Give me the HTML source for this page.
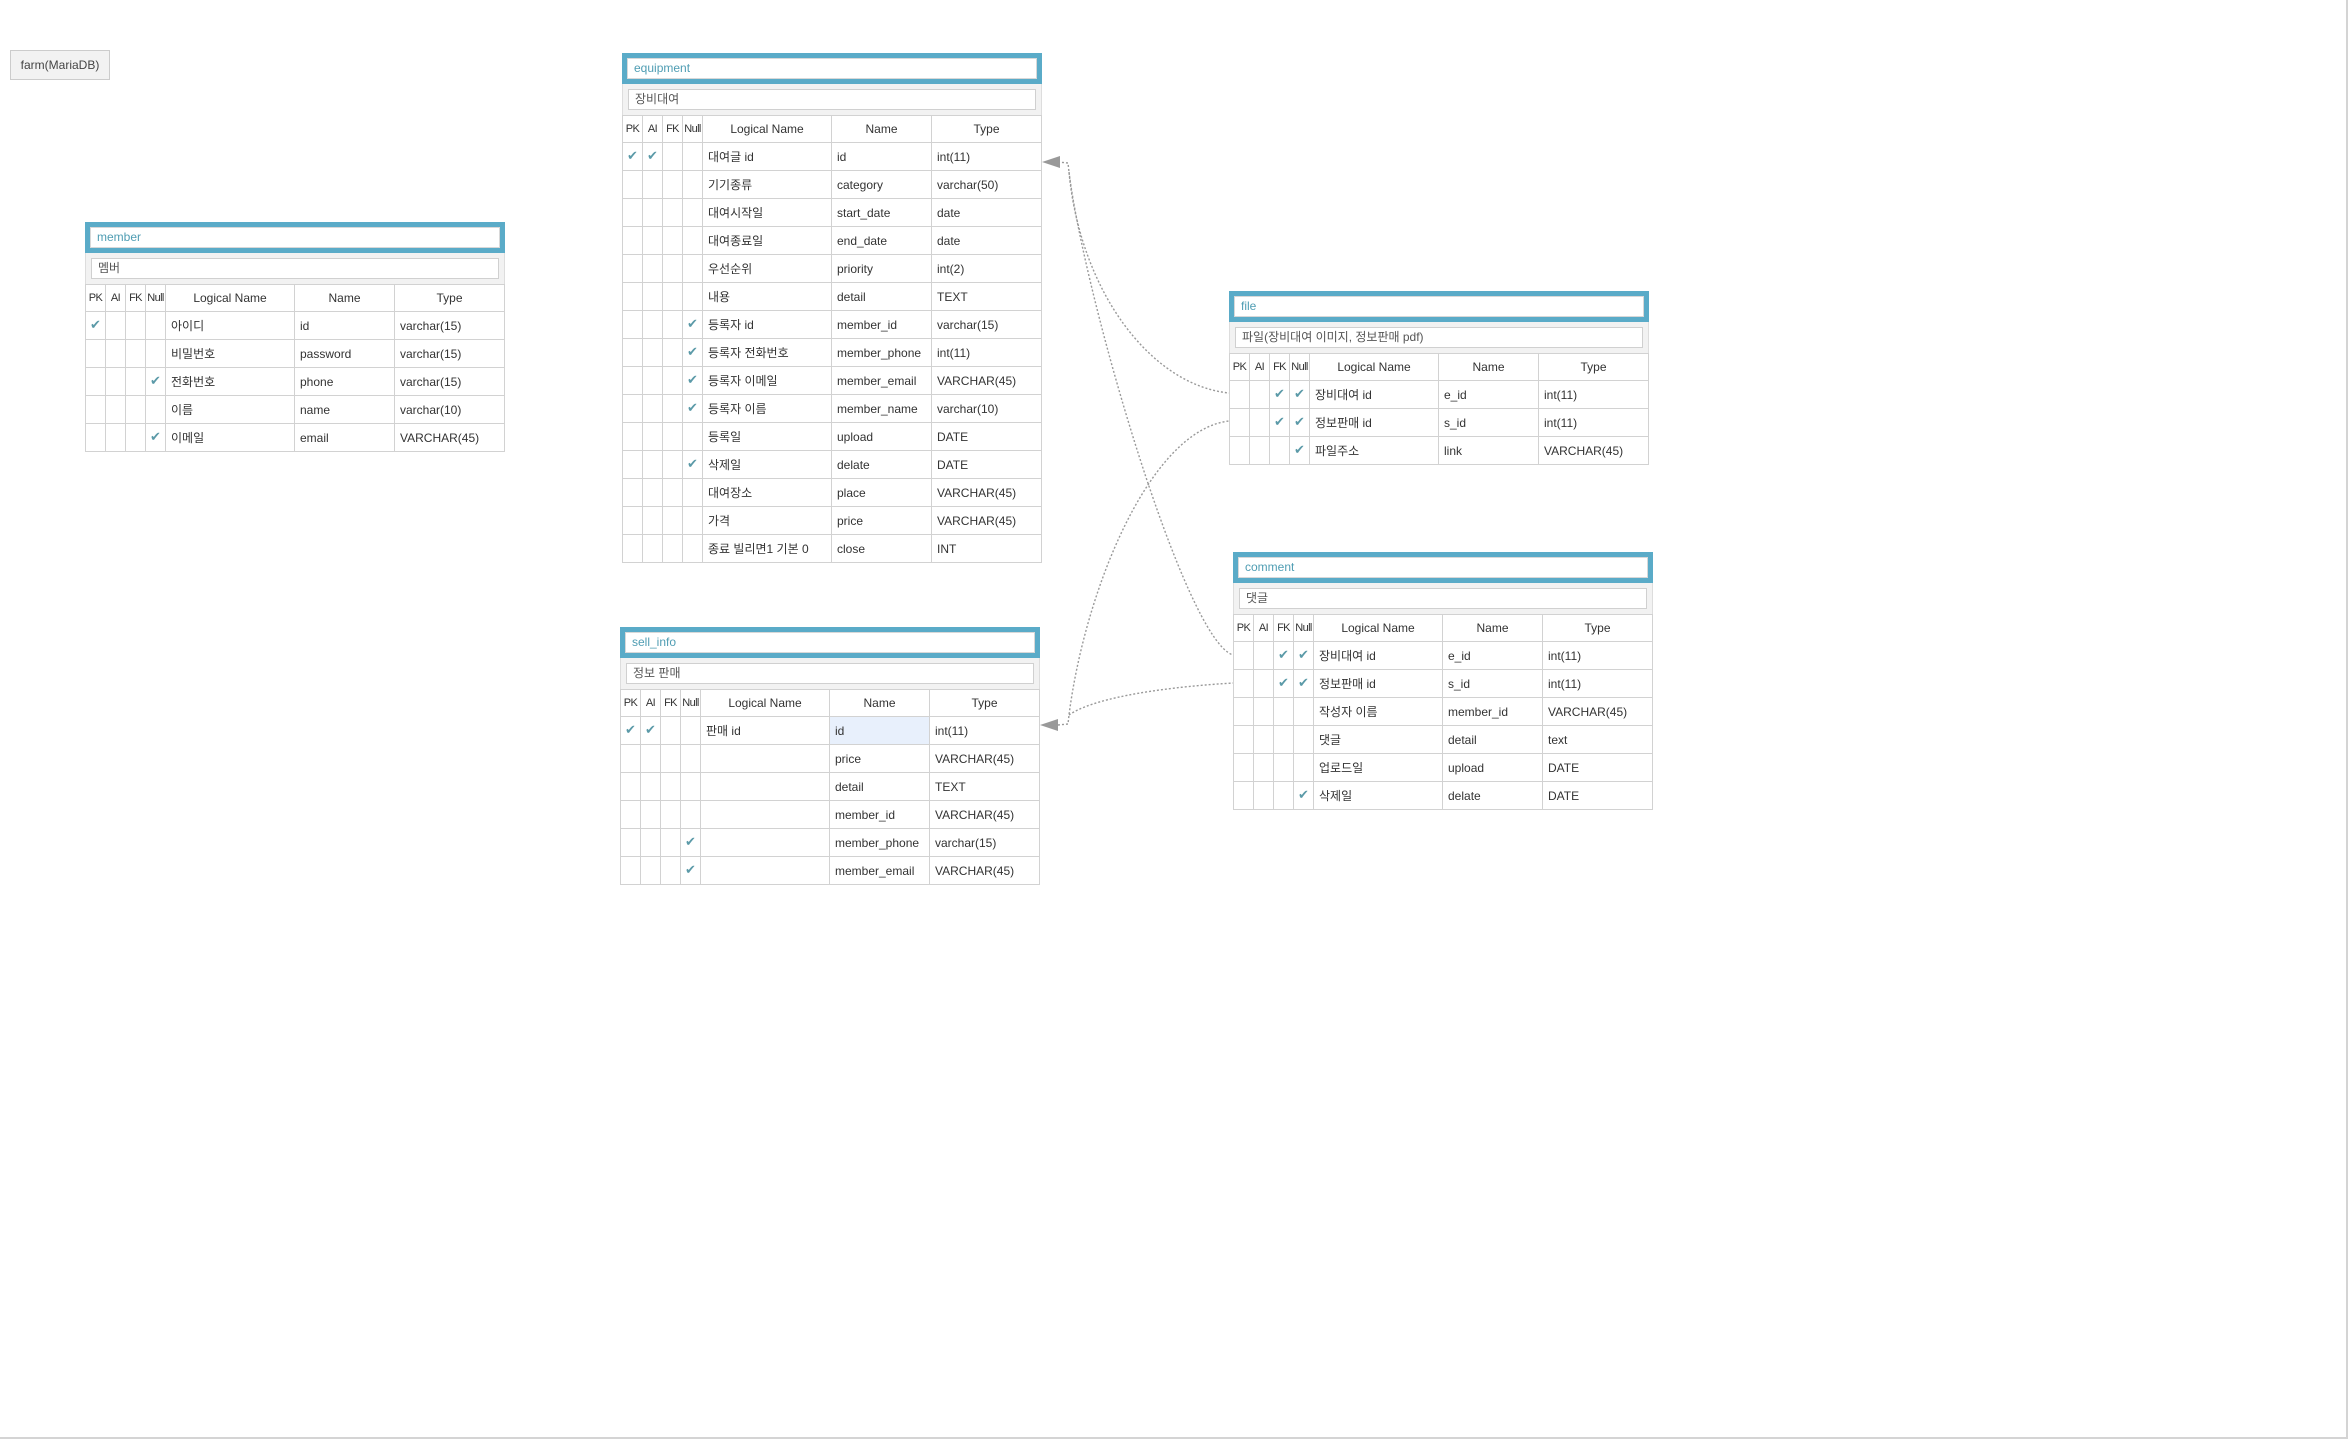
<!DOCTYPE html>
<html><head><meta charset="utf-8"><style>
body{margin:0;width:2348px;height:1439px;background:#fff;position:relative;overflow:hidden;font-family:"Liberation Sans","Noto Sans CJK KR",sans-serif;font-size:12px;color:#333}
.frame{position:absolute;left:0;top:0;width:2346px;height:1437px;border-right:2px solid #d4d4d4;border-bottom:2px solid #d4d4d4}
.farm{position:absolute;left:10px;top:50px;width:98px;height:28px;background:#f2f2f2;border:1px solid #ccc;line-height:28px;text-align:center;color:#444}
.tb{position:absolute;width:420px}
.ti{background:#5aabc8;padding:5px;height:21px}
.ti div{background:#fff;border:1px solid #d8d8d8;height:19px;line-height:19px;padding-left:6px;color:#4f9db3}
.su{background:#f2f2f2;padding:5px;height:21px;border-left:1px solid #ddd;border-right:1px solid #ddd;box-sizing:content-box}
.su div{background:#fff;border:1px solid #d0d0d0;height:19px;line-height:19px;padding-left:6px;color:#555}
table{border-collapse:collapse;table-layout:fixed;width:419px;margin-left:0}
td{border:1px solid #d2d2d2;height:27px;padding:0 0 0 5px;white-space:nowrap;overflow:hidden}
tr.h td{text-align:center;padding:0;height:26px}
tr.h td.s{font-size:11px;letter-spacing:-0.6px;overflow:visible}
td.c{padding:0;text-align:center;color:#5b9aa8;font-family:"DejaVu Sans",sans-serif;font-size:13px}
td.sel{background:#e8f0fc}
</style></head><body>
<div class="frame"></div>
<div class="farm">farm(MariaDB)</div>
<svg width="2348" height="1439" style="position:absolute;left:0;top:0">
<g fill="none" stroke="#999" stroke-width="1.4" stroke-dasharray="2,2">
<path d="M1058,162 L1068,163 L1069,172 C1080,290 1150,385 1229,393"/>
<path d="M1069,172 C1085,300 1185,640 1233,655"/>
<path d="M1058,725 L1068,724 L1069,715 C1085,590 1150,430 1229,421"/>
<path d="M1069,715 C1090,700 1150,688 1233,683"/>
</g>
<polygon points="1042,162 1060,156 1060,168" fill="#999"/>
<polygon points="1040,725 1058,719 1058,731" fill="#999"/>
</svg>

<div class="tb" style="left:85px;top:222px">
<div class="ti"><div>member</div></div>
<div class="su"><div>멤버</div></div>
<table><colgroup><col style="width:20px"><col style="width:20px"><col style="width:20px"><col style="width:20px"><col style="width:129px"><col style="width:100px"><col style="width:110px"></colgroup>
<tr class="h"><td class="s">PK</td><td class="s">AI</td><td class="s">FK</td><td class="s">Null</td><td>Logical Name</td><td>Name</td><td>Type</td></tr>
<tr><td class="c">✔</td><td class="c"></td><td class="c"></td><td class="c"></td><td>아이디</td><td>id</td><td>varchar(15)</td></tr>
<tr><td class="c"></td><td class="c"></td><td class="c"></td><td class="c"></td><td>비밀번호</td><td>password</td><td>varchar(15)</td></tr>
<tr><td class="c"></td><td class="c"></td><td class="c"></td><td class="c">✔</td><td>전화번호</td><td>phone</td><td>varchar(15)</td></tr>
<tr><td class="c"></td><td class="c"></td><td class="c"></td><td class="c"></td><td>이름</td><td>name</td><td>varchar(10)</td></tr>
<tr><td class="c"></td><td class="c"></td><td class="c"></td><td class="c">✔</td><td>이메일</td><td>email</td><td>VARCHAR(45)</td></tr>
</table></div>

<div class="tb" style="left:622px;top:53px">
<div class="ti"><div>equipment</div></div>
<div class="su"><div>장비대여</div></div>
<table><colgroup><col style="width:20px"><col style="width:20px"><col style="width:20px"><col style="width:20px"><col style="width:129px"><col style="width:100px"><col style="width:110px"></colgroup>
<tr class="h"><td class="s">PK</td><td class="s">AI</td><td class="s">FK</td><td class="s">Null</td><td>Logical Name</td><td>Name</td><td>Type</td></tr>
<tr><td class="c">✔</td><td class="c">✔</td><td class="c"></td><td class="c"></td><td>대여글 id</td><td>id</td><td>int(11)</td></tr>
<tr><td class="c"></td><td class="c"></td><td class="c"></td><td class="c"></td><td>기기종류</td><td>category</td><td>varchar(50)</td></tr>
<tr><td class="c"></td><td class="c"></td><td class="c"></td><td class="c"></td><td>대여시작일</td><td>start_date</td><td>date</td></tr>
<tr><td class="c"></td><td class="c"></td><td class="c"></td><td class="c"></td><td>대여종료일</td><td>end_date</td><td>date</td></tr>
<tr><td class="c"></td><td class="c"></td><td class="c"></td><td class="c"></td><td>우선순위</td><td>priority</td><td>int(2)</td></tr>
<tr><td class="c"></td><td class="c"></td><td class="c"></td><td class="c"></td><td>내용</td><td>detail</td><td>TEXT</td></tr>
<tr><td class="c"></td><td class="c"></td><td class="c"></td><td class="c">✔</td><td>등록자 id</td><td>member_id</td><td>varchar(15)</td></tr>
<tr><td class="c"></td><td class="c"></td><td class="c"></td><td class="c">✔</td><td>등록자 전화번호</td><td>member_phone</td><td>int(11)</td></tr>
<tr><td class="c"></td><td class="c"></td><td class="c"></td><td class="c">✔</td><td>등록자 이메일</td><td>member_email</td><td>VARCHAR(45)</td></tr>
<tr><td class="c"></td><td class="c"></td><td class="c"></td><td class="c">✔</td><td>등록자 이름</td><td>member_name</td><td>varchar(10)</td></tr>
<tr><td class="c"></td><td class="c"></td><td class="c"></td><td class="c"></td><td>등록일</td><td>upload</td><td>DATE</td></tr>
<tr><td class="c"></td><td class="c"></td><td class="c"></td><td class="c">✔</td><td>삭제일</td><td>delate</td><td>DATE</td></tr>
<tr><td class="c"></td><td class="c"></td><td class="c"></td><td class="c"></td><td>대여장소</td><td>place</td><td>VARCHAR(45)</td></tr>
<tr><td class="c"></td><td class="c"></td><td class="c"></td><td class="c"></td><td>가격</td><td>price</td><td>VARCHAR(45)</td></tr>
<tr><td class="c"></td><td class="c"></td><td class="c"></td><td class="c"></td><td>종료 빌리면1 기본 0</td><td>close</td><td>INT</td></tr>
</table></div>

<div class="tb" style="left:620px;top:627px">
<div class="ti"><div>sell_info</div></div>
<div class="su"><div>정보 판매</div></div>
<table><colgroup><col style="width:20px"><col style="width:20px"><col style="width:20px"><col style="width:20px"><col style="width:129px"><col style="width:100px"><col style="width:110px"></colgroup>
<tr class="h"><td class="s">PK</td><td class="s">AI</td><td class="s">FK</td><td class="s">Null</td><td>Logical Name</td><td>Name</td><td>Type</td></tr>
<tr><td class="c">✔</td><td class="c">✔</td><td class="c"></td><td class="c"></td><td>판매 id</td><td class="sel">id</td><td>int(11)</td></tr>
<tr><td class="c"></td><td class="c"></td><td class="c"></td><td class="c"></td><td></td><td>price</td><td>VARCHAR(45)</td></tr>
<tr><td class="c"></td><td class="c"></td><td class="c"></td><td class="c"></td><td></td><td>detail</td><td>TEXT</td></tr>
<tr><td class="c"></td><td class="c"></td><td class="c"></td><td class="c"></td><td></td><td>member_id</td><td>VARCHAR(45)</td></tr>
<tr><td class="c"></td><td class="c"></td><td class="c"></td><td class="c">✔</td><td></td><td>member_phone</td><td>varchar(15)</td></tr>
<tr><td class="c"></td><td class="c"></td><td class="c"></td><td class="c">✔</td><td></td><td>member_email</td><td>VARCHAR(45)</td></tr>
</table></div>

<div class="tb" style="left:1229px;top:291px">
<div class="ti"><div>file</div></div>
<div class="su"><div>파일(장비대여 이미지, 정보판매 pdf)</div></div>
<table><colgroup><col style="width:20px"><col style="width:20px"><col style="width:20px"><col style="width:20px"><col style="width:129px"><col style="width:100px"><col style="width:110px"></colgroup>
<tr class="h"><td class="s">PK</td><td class="s">AI</td><td class="s">FK</td><td class="s">Null</td><td>Logical Name</td><td>Name</td><td>Type</td></tr>
<tr><td class="c"></td><td class="c"></td><td class="c">✔</td><td class="c">✔</td><td>장비대여 id</td><td>e_id</td><td>int(11)</td></tr>
<tr><td class="c"></td><td class="c"></td><td class="c">✔</td><td class="c">✔</td><td>정보판매 id</td><td>s_id</td><td>int(11)</td></tr>
<tr><td class="c"></td><td class="c"></td><td class="c"></td><td class="c">✔</td><td>파일주소</td><td>link</td><td>VARCHAR(45)</td></tr>
</table></div>

<div class="tb" style="left:1233px;top:552px">
<div class="ti"><div>comment</div></div>
<div class="su"><div>댓글</div></div>
<table><colgroup><col style="width:20px"><col style="width:20px"><col style="width:20px"><col style="width:20px"><col style="width:129px"><col style="width:100px"><col style="width:110px"></colgroup>
<tr class="h"><td class="s">PK</td><td class="s">AI</td><td class="s">FK</td><td class="s">Null</td><td>Logical Name</td><td>Name</td><td>Type</td></tr>
<tr><td class="c"></td><td class="c"></td><td class="c">✔</td><td class="c">✔</td><td>장비대여 id</td><td>e_id</td><td>int(11)</td></tr>
<tr><td class="c"></td><td class="c"></td><td class="c">✔</td><td class="c">✔</td><td>정보판매 id</td><td>s_id</td><td>int(11)</td></tr>
<tr><td class="c"></td><td class="c"></td><td class="c"></td><td class="c"></td><td>작성자 이름</td><td>member_id</td><td>VARCHAR(45)</td></tr>
<tr><td class="c"></td><td class="c"></td><td class="c"></td><td class="c"></td><td>댓글</td><td>detail</td><td>text</td></tr>
<tr><td class="c"></td><td class="c"></td><td class="c"></td><td class="c"></td><td>업로드일</td><td>upload</td><td>DATE</td></tr>
<tr><td class="c"></td><td class="c"></td><td class="c"></td><td class="c">✔</td><td>삭제일</td><td>delate</td><td>DATE</td></tr>
</table></div>
</body></html>
